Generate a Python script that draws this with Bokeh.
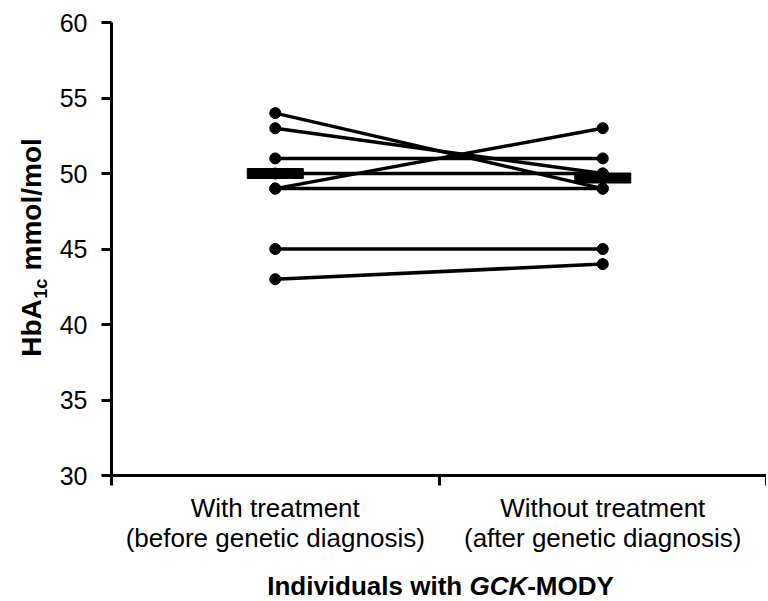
import math
from bokeh.plotting import figure
from bokeh.models import Range1d, LinearAxis, FixedTicker, ColumnDataSource
from bokeh.layouts import row, column
from bokeh.core.properties import value
from bokeh.embed import file_html
from bokeh.resources import INLINE

# ---- data ----
categories = ["With treatment\n(before genetic diagnosis)",
              "Without treatment\n(after genetic diagnosis)"]
cat_pos = [0.5, 1.5]
before = [54, 53, 51, 50, 49, 49, 45, 43]
after = [49, 50, 51, 50, 53, 49, 45, 44]
group_means = [50.0, 49.7]
y_ticks = [30, 35, 40, 45, 50, 55, 60]
x_bounds = [0, 1, 2]

FONT = "Liberation Sans"
LEFT_W = 56
MAIN_W = 710
MAIN_H = 560
XT_H = 41
FRAME_TOP = 22
FRAME_BOTTOM = 475

p = figure(width=MAIN_W, height=MAIN_H, output_backend="svg", toolbar_location=None,
           x_axis_type=None, y_axis_type=None,
           x_range=Range1d(0, 2), y_range=Range1d(30, 60),
           min_border_left=110 - LEFT_W, min_border_right=0, min_border_top=FRAME_TOP,
           min_border_bottom=MAIN_H - FRAME_BOTTOM)
p.outline_line_color = None

# y axis
yax = LinearAxis(ticker=FixedTicker(ticks=y_ticks))
yax.axis_line_width = 3
yax.major_tick_line_width = 3
yax.major_tick_out = 10
yax.major_tick_in = 0
yax.minor_tick_line_color = None
yax.major_label_text_font = FONT
yax.major_label_text_font_size = "25px"
yax.major_label_text_color = "black"
yax.major_label_standoff = 14
p.add_layout(yax, "left")

# x axis (line + boundary ticks)
xax = LinearAxis(ticker=FixedTicker(ticks=x_bounds))
xax.axis_line_width = 3
xax.major_tick_line_width = 3
xax.major_tick_out = 10
xax.major_tick_in = 0
xax.minor_tick_line_color = None
xax.major_label_text_font_size = "0px"
xax.major_label_text_color = None
xax.major_label_standoff = 0
p.add_layout(xax, "below")

# x axis category labels
xlab = LinearAxis(ticker=FixedTicker(ticks=cat_pos))
xlab.axis_line_color = None
xlab.major_tick_line_color = None
xlab.minor_tick_line_color = None
xlab.major_label_overrides = {pos: lab for pos, lab in zip(cat_pos, categories)}
xlab.major_label_text_font = FONT
xlab.major_label_text_font_size = "26px"
xlab.major_label_text_color = "black"
xlab.major_label_text_line_height = 1.0
xlab.major_label_standoff = 1
p.add_layout(xlab, "below")

p.xgrid.visible = False
p.ygrid.visible = False

# paired lines
src = ColumnDataSource(dict(x0=[cat_pos[0]] * len(before), y0=before,
                            x1=[cat_pos[1]] * len(after), y1=after))
p.segment("x0", "y0", "x1", "y1", source=src, line_color="black", line_width=3.5)
p.scatter([cat_pos[0]] * len(before), before, size=11, color="black")
p.scatter([cat_pos[1]] * len(after), after, size=11, color="black")

# group mean bars
p.rect(x=cat_pos, y=group_means, width=56, width_units="screen",
       height=10, height_units="screen", color="black")


def blank(w, h, yr):
    f = figure(width=w, height=h, output_backend="svg", toolbar_location=None,
               x_axis_type=None, y_axis_type=None,
               x_range=Range1d(0, w), y_range=yr,
               min_border=0)
    f.title.visible = False
    f.outline_line_color = None
    f.xgrid.visible = False
    f.ygrid.visible = False
    return f


MID = 0.35  # middle of the text line above the baseline, in em

# ---- y title: "HbA1c mmol/mol" (rotated, subscript) ----
# the frame of this side panel is aligned with the main frame, so its y range
# runs in page pixels from FRAME_BOTTOM (bottom) to FRAME_TOP (top)
yfig = blank(LEFT_W, MAIN_H, Range1d(FRAME_BOTTOM, FRAME_TOP))
fs_y = 28
sub_fs = 18
wa = 2.055 * fs_y
wb = 1.112 * sub_fs + 1
wsp = 0.278 * fs_y
wc = 4.723 * fs_y
total = wa + wb + wsp + wc
ystart = 247 + total / 2          # page pixel (from top) where "H" starts
base_x = 41
parts_y = [("HbA", ystart - wa / 2, fs_y, base_x),
           ("1c", ystart - wa - wb / 2, sub_fs, base_x + 6),
           ("mmol/mol", ystart - wa - wb - wsp - wc / 2, fs_y, base_x)]
for txt, py, size, bx in parts_y:
    yfig.text(x=[bx - MID * size], y=[py], text=[txt], angle=math.pi / 2,
              text_font=value(FONT), text_font_size=value(f"{size}px"),
              text_font_style=value("bold"), text_color="black",
              text_align="center", text_baseline="middle")

# ---- x title: "Individuals with GCK-MODY" ----
XT_W = LEFT_W + MAIN_W
xfig = blank(XT_W, XT_H, Range1d(0, XT_H))
fs_x = 26
w1 = 7.78 * fs_x
w2 = 2.222 * fs_x
w3 = 3.333 * fs_x
start = 440 - (w1 + w2 + w3) / 2
base_y = XT_H - (595 - MAIN_H) + MID * fs_x
for txt, px, w, style in [("Individuals with", start, w1 - 0.278 * fs_x, "bold"),
                          ("GCK", start + w1, w2, "bold italic"),
                          ("-MODY", start + w1 + w2, w3, "bold")]:
    xfig.text(x=[px + w / 2], y=[base_y], text=[txt],
              text_font=value(FONT), text_font_size=value(f"{fs_x}px"),
              text_font_style=value(style), text_color="black",
              text_align="center", text_baseline="middle")

layout = column(row(yfig, p, spacing=0), xfig, spacing=0)
open("out.html", "w").write(file_html(layout, INLINE))
